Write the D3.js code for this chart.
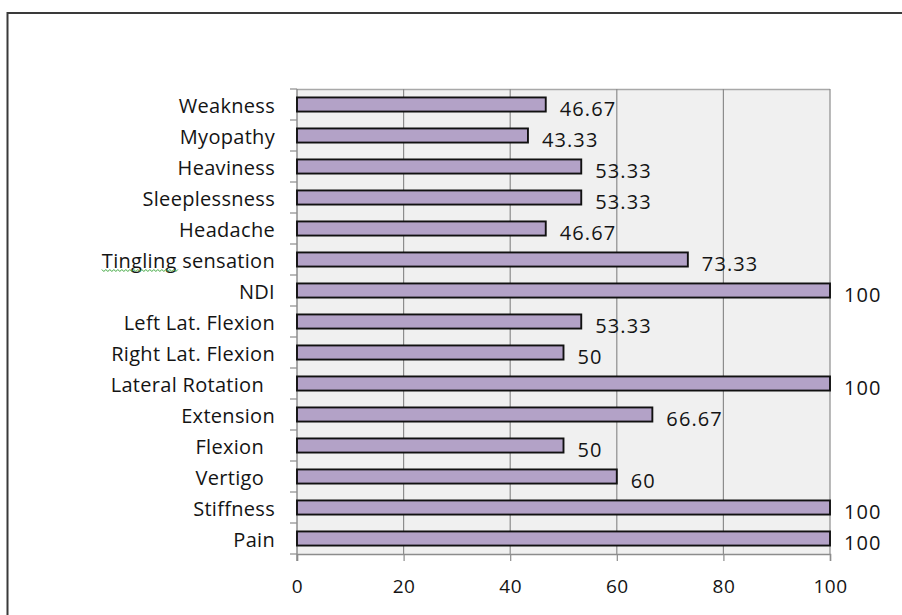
<!DOCTYPE html>
<html>
<head>
<meta charset="utf-8">
<script src="https://cdn.jsdelivr.net/npm/d3@7"></script>
<style>
  html, body { margin: 0; padding: 0; background: #ffffff; }
  svg { display: block; }
  text { font-family: "Open Sans", "DejaVu Sans", sans-serif; fill: #141414; }
</style>
</head>
<body>
<svg id="chart" width="902" height="615"></svg>
<script>
// Symptom / measure categories, top to bottom
const categories = [
  "Weakness", "Myopathy", "Heaviness", "Sleeplessness", "Headache",
  "Tingling sensation", "NDI", "Left Lat. Flexion", "Right Lat. Flexion",
  "Lateral Rotation  ", "Extension", "Flexion  ", "Vertigo  ", "Stiffness", "Pain"
];
// Percentage for each category
const values = [46.67, 43.33, 53.33, 53.33, 46.67, 73.33, 100, 53.33, 50, 100, 66.67, 50, 60, 100, 100];
// Value axis ticks
const xTicks = [0, 20, 40, 60, 80, 100];

const svg = d3.select("#chart");

const plot = { left: 297, right: 830, top: 89, bottom: 554 };

const x = d3.scaleLinear().domain([0, 100]).range([plot.left, plot.right]);
const y = d3.scaleBand()
  .domain(categories)
  .range([plot.top, plot.bottom])
  .paddingInner(0.545)
  .paddingOuter(0.2725);
const step = y.step();

// Outer chart frame (only top and left edges fall inside the view)
svg.append("path")
  .attr("d", "M7.5,1000 L7.5,13 L1000,13")
  .attr("fill", "none")
  .attr("stroke", "#3a3a3a")
  .attr("stroke-width", 2);

// Plot area background
svg.append("rect")
  .attr("x", plot.left).attr("y", plot.top)
  .attr("width", plot.right - plot.left)
  .attr("height", plot.bottom - plot.top)
  .attr("fill", "#f0f0f0");

// Top border of plot area
svg.append("line")
  .attr("x1", plot.left).attr("x2", plot.right)
  .attr("y1", plot.top + 0.5).attr("y2", plot.top + 0.5)
  .attr("stroke", "#a8a8a8").attr("stroke-width", 1.5);

// Vertical gridlines
svg.append("g")
  .selectAll("line")
  .data(xTicks.filter(d => d > 0))
  .join("line")
  .attr("x1", d => x(d)).attr("x2", d => x(d))
  .attr("y1", plot.top).attr("y2", plot.bottom)
  .attr("stroke", "#8c8c8c").attr("stroke-width", 1.2);

// Bottom (value) axis
const xAxis = d3.axisBottom(x).tickValues(xTicks).tickSize(7).tickPadding(19).tickFormat(d3.format("d"));
const gx = svg.append("g").attr("transform", `translate(0,${plot.bottom})`).call(xAxis);
gx.select(".domain").attr("stroke", "#8c8c8c").attr("stroke-width", 1.5);
gx.selectAll(".tick line").attr("stroke", "#8c8c8c").attr("stroke-width", 1.2);
gx.selectAll("text")
  .style("font-size", "19px")
  .style("letter-spacing", "0.5px")
  .attr("fill", "#141414");

// Left (category) axis: ticks sit on band boundaries
const boundaries = d3.range(categories.length + 1).map(i => plot.top + i * step);
svg.append("g")
  .selectAll("line")
  .data(boundaries)
  .join("line")
  .attr("x1", plot.left - 7).attr("x2", plot.left)
  .attr("y1", d => d).attr("y2", d => d)
  .attr("stroke", "#8c8c8c").attr("stroke-width", 1.2);
svg.append("line")
  .attr("x1", plot.left).attr("x2", plot.left)
  .attr("y1", plot.top).attr("y2", plot.bottom + 7)
  .attr("stroke", "#8c8c8c").attr("stroke-width", 1.5);

// Category labels
const catLabels = svg.append("g")
  .selectAll("text")
  .data(categories)
  .join("text")
  .attr("x", 275)
  .attr("y", d => y(d) + y.bandwidth() / 2 + 1)
  .attr("dy", "0.35em")
  .attr("text-anchor", "end")
  .style("white-space", "pre")
  .style("font-size", "20px")
  .style("letter-spacing", "0.3px")
  .text(d => d);

// Spell-check squiggle under "Tingling"
catLabels.filter(d => d.startsWith("Tingling")).each(function(d) {
  const node = this;
  const start = node.getStartPositionOfChar(0).x;
  const end = node.getEndPositionOfChar(7).x;
  const base = y(d) + y.bandwidth() / 2 + 10;
  let p = `M${start},${base}`;
  for (let xx = start, k = 0; xx < end; xx += 2, k++) {
    p += ` L${xx + 2},${base + (k % 2 === 0 ? 2 : 0)}`;
  }
  svg.append("path").attr("d", p).attr("fill", "none")
    .attr("stroke", "#3aa53a").attr("stroke-width", 1);
});

// Bars
const rows = categories.map((c, i) => ({ cat: c, val: values[i] }));
svg.append("g")
  .selectAll("rect")
  .data(rows)
  .join("rect")
  .attr("x", x(0))
  .attr("y", d => y(d.cat))
  .attr("width", d => x(d.val) - x(0))
  .attr("height", y.bandwidth())
  .attr("fill", "#b3a2c7")
  .attr("stroke", "#111111")
  .attr("stroke-width", 1.9);

// Value labels
svg.append("g")
  .selectAll("text")
  .data(rows)
  .join("text")
  .attr("x", d => x(d.val) + 14)
  .attr("y", d => y(d.cat) + y.bandwidth() / 2 + 4)
  .attr("dy", "0.35em")
  .style("font-size", "20px")
  .style("letter-spacing", "1.1px")
  .text(d => String(d.val));
</script>
</body>
</html>
